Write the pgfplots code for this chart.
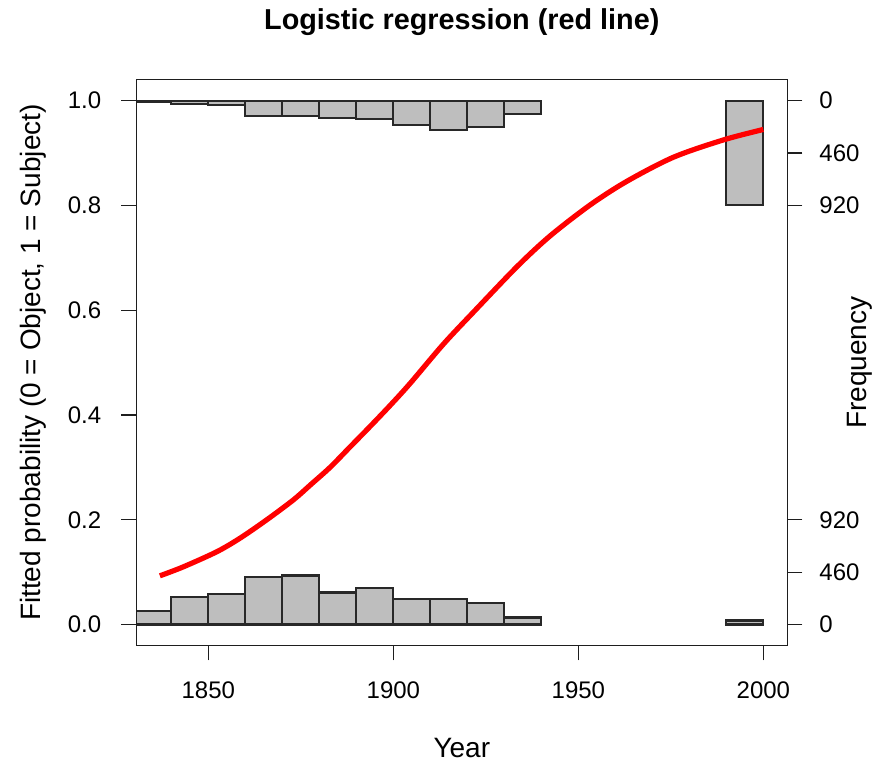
\documentclass[border=0pt]{standalone}
\usepackage{fontspec}
\setmainfont{Liberation Sans}
\usepackage{pgfplots}
\pgfplotsset{compat=1.18}
\definecolor{histgray}{RGB}{190,190,190}
\definecolor{histedge}{RGB}{40,40,40}
\definecolor{axisdark}{RGB}{30,30,30}
\begin{document}
\begin{tikzpicture}
\useasboundingbox (-68.1pt,-59.25pt) rectangle (378.9pt,322.75pt);
\pgfplotsset{
  common/.style={
    at={(0pt,0pt)}, anchor=south west, scale only axis,
    width=325.6pt, height=282.9pt,
    xmin=1830.5, xmax=2006.5,
    tick align=outside, major tick length=7.5pt,
    tick style={axisdark, line width=0.6pt},
    axis line style={axisdark, line width=0.6pt},
    ticklabel style={font=\fontsize{12}{14}\selectfont},
  },
  histaxis/.style={common,
    axis x line=none, axis y line*=right,
    ymin=-184, ymax=4784,
    ytick={0,460,920}, yticklabels={0,460,920},
    yticklabel style={xshift=5pt},
  },
  histbar/.style={ybar interval, fill=histgray, draw=histedge, line width=1.1pt},
}
% Frequency of subject (=1), drawn hanging from p = 1
\begin{axis}[histaxis, y dir=reverse]
\addplot[histbar] coordinates {
(1830,14) (1840,29) (1850,40) (1860,137) (1870,137) (1880,149)
(1890,161) (1900,216) (1910,255) (1920,231) (1930,117) (1940,117)};
\addplot[histbar] coordinates {(1990,916) (2000,916)};
\end{axis}
% Frequency of object (=0), drawn from p = 0
\begin{axis}[histaxis]
\addplot[histbar] coordinates {
(1830,117) (1840,240) (1850,270) (1860,419) (1870,430) (1880,281)
(1890,322) (1900,226) (1910,226) (1920,187) (1930,61) (1940,61)};
\addplot[histbar] coordinates {(1990,35) (2000,35)};
\end{axis}
% Main axis: fitted probabilities
\begin{axis}[common, name=main,
  ymin=-0.04, ymax=1.04,
  tick pos=left,
  xtick={1850,1900,1950,2000}, xticklabels={1850,1900,1950,2000},
  ytick={0,0.2,0.4,0.6,0.8,1}, yticklabels={0.0,0.2,0.4,0.6,0.8,1.0},
  xticklabel style={yshift=-7pt},
  yticklabel style={xshift=-6.5pt},
]
\addplot[red, line width=2.6pt, smooth, tension=0.5] coordinates {
(1836.9,0.093) (1843.2,0.110) (1852.3,0.139) (1858.6,0.165) (1865.8,0.200)
(1873.0,0.238) (1877.5,0.266) (1882.9,0.300) (1888.3,0.339) (1893.7,0.378)
(1899.1,0.418) (1904.5,0.460) (1913.5,0.535) (1921.6,0.596) (1933.4,0.683)
(1942.4,0.742) (1953.2,0.801) (1963.1,0.846) (1975.7,0.892) (1989.2,0.925)
(2000.0,0.945)};
\end{axis}
\node[font=\fontsize{14}{16}\selectfont, rotate=90] at ([xshift=-51.5pt]main.west) {Fitted probability (0 = Object, 1 = Subject)};
\node[font=\fontsize{14}{16}\selectfont] at ([yshift=-51.25pt]main.south) {Year};
\node[font=\fontsize{14}{16}\selectfont, rotate=90] at ([xshift=36.3pt]main.east) {Frequency};
\node[font=\fontsize{14.4}{17}\selectfont\bfseries] at ([yshift=28.9pt]main.north) {Logistic regression (red line)};
\end{tikzpicture}
\end{document}
